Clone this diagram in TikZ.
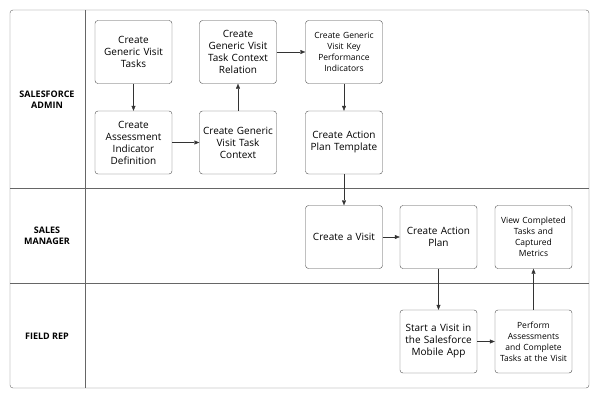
\documentclass[tikz,border=0pt]{standalone}
\usepackage{fontspec}
\setmainfont{Open Sans}
\usetikzlibrary{arrows.meta}
\begin{document}
\begin{tikzpicture}[x=1pt,y=-1pt,
  task/.style={draw=black!70, rounded corners=3pt, minimum width=77pt, minimum height=63pt,
    align=center, text width=70pt, font=\fontsize{10}{12}\selectfont, inner sep=1pt},
  lane/.style={font=\bfseries\fontsize{9}{11}\selectfont, align=center},
  flow/.style={-{Triangle[length=5pt,width=4pt]}, black!80}]
  \useasboundingbox (0,0) rectangle (600,400);
  % lanes
  \draw[black!60, rounded corners=3pt] (10,10) rectangle (589,388);
  \draw[black!60] (10,188) -- (589,188) (10,283) -- (589,283) (85,10) -- (85,388);
  \node[lane] (admin) at (47,100) {SALESFORCE\\ADMIN};
  \node[lane] (manager) at (47,236) {SALES\\MANAGER};
  \node[lane] (rep) at (47,336) {FIELD REP};
  % tasks
  \node[task] (tasks) at (133.5,52) {Create\\Generic Visit\\Tasks};
  \node[task] (indicator) at (133.5,142.5) {Create\\Assessment\\Indicator\\Definition};
  \node[task] (context) at (238,142.5) {Create Generic\\Visit Task\\Context};
  \node[task] (relation) at (238,52) {Create\\Generic Visit\\Task Context\\Relation};
  \node[task, font=\fontsize{8.5}{11}\selectfont] (kpi) at (344,52) {Create Generic\\Visit Key\\Performance\\Indicators};
  \node[task] (template) at (344,142.5) {Create Action\\Plan Template};
  \node[task] (visit) at (344,237) {Create a Visit};
  \node[task] (plan) at (438.5,237) {Create Action\\Plan};
  \node[task, font=\fontsize{8.5}{11}\selectfont] (view) at (533.5,237) {View Completed\\Tasks and\\Captured\\Metrics};
  \node[task] (start) at (438.5,341.5) {Start a Visit in\\the Salesforce\\Mobile App};
  \node[task, font=\fontsize{8.5}{11}\selectfont] (perform) at (533.5,341.5) {Perform\\Assessments\\and Complete\\Tasks at the Visit};
  % connectors
  \draw[flow] (tasks) -- (indicator);
  \draw[flow] (indicator) -- (context);
  \draw[flow] (context) -- (relation);
  \draw[flow] (relation) -- (kpi);
  \draw[flow] (kpi) -- (template);
  \draw[flow] (template) -- (visit);
  \draw[flow] (visit) -- (plan);
  \draw[flow] (plan) -- (start);
  \draw[flow] (start) -- (perform);
  \draw[flow] (perform) -- (view);
\end{tikzpicture}
\end{document}
